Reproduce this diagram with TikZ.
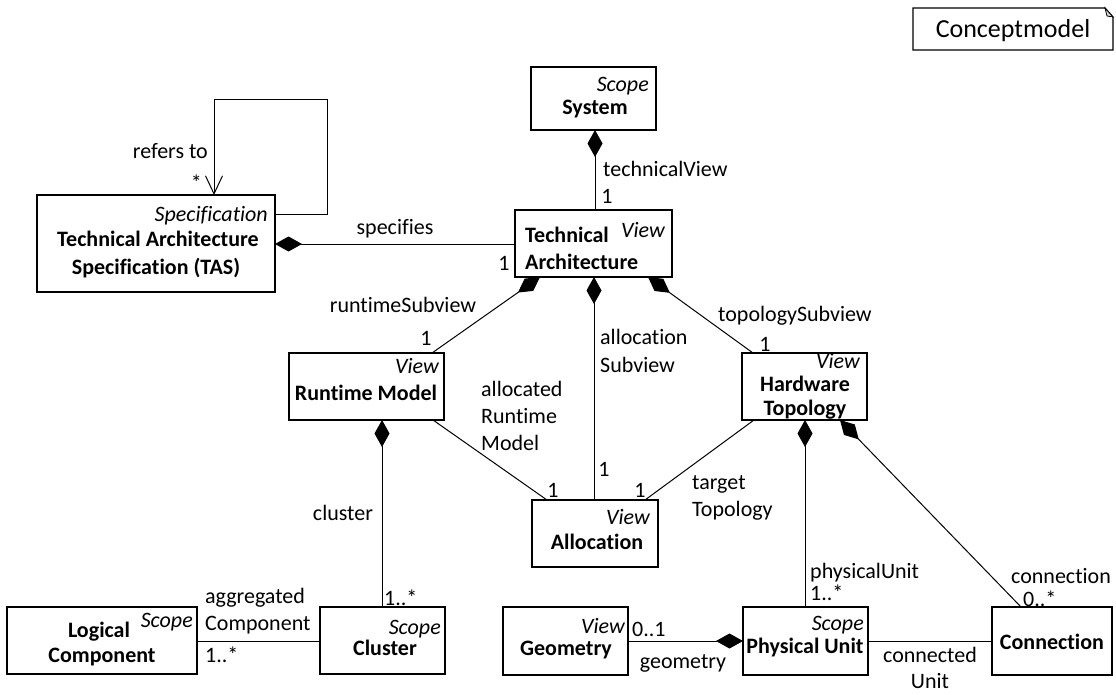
\documentclass[tikz,border=0pt]{standalone}
\usepackage{fontspec}
\setmainfont{Carlito}[Ligatures=NoCommon]
\usetikzlibrary{arrows.meta,calc}
\begin{document}
\begin{tikzpicture}[x=1pt,y=-1pt,
  box/.style={draw, line width=1.2pt, rectangle, anchor=north west, inner sep=0pt, outer sep=0pt},
  nm/.style={font=\fontsize{22}{27}\selectfont\bfseries, inner sep=0pt, anchor=base},
  nml/.style={nm, anchor=base west},
  st/.style={font=\fontsize{22}{27}\selectfont\itshape, inner sep=0pt, anchor=base east},
  lbl/.style={font=\fontsize{22}{27}\selectfont, inner sep=0pt, anchor=base},
  lblw/.style={lbl, anchor=base west},
  lble/.style={lbl, anchor=base east},
  conn/.style={line width=1pt},
  comp/.style={conn, {Diamond[length=27pt,width=15pt]}-},
]
\useasboundingbox (0,0) rectangle (1116,695);

% diagram frame label (note with folded corner)
\node[inner sep=0pt, outer sep=0pt, minimum width=200pt, minimum height=42pt, anchor=north west] (note) at (913,8) {};
\draw[line width=1.2pt] (note.north west) -- ($(note.north east)+(-8,0)$) -- ($(note.north east)+(0,9)$) -- (note.south east) -- (note.south west) -- cycle;
\filldraw[fill=gray!35, line width=0.8pt] ($(note.north east)+(-8,0)$) -- ($(note.north east)+(-6,8)$) -- ($(note.north east)+(0,9)$) -- cycle;
\node[font=\fontsize{26}{30}\selectfont, inner sep=0pt, anchor=base] (notet) at (1013,38) {Conceptmodel};

% class boxes
\node[box, minimum width=125pt, minimum height=63pt] (sys) at (531,67) {};
\node[box, minimum width=157pt, minimum height=67pt] (ta) at (515,210) {};
\node[box, minimum width=238pt, minimum height=97pt] (tas) at (37,195) {};
\node[box, minimum width=155pt, minimum height=67pt] (rm) at (289,353) {};
\node[box, minimum width=126pt, minimum height=67pt] (al) at (532,500) {};
\node[box, minimum width=125pt, minimum height=67pt] (ht) at (742,353) {};
\node[box, minimum width=190pt, minimum height=67pt] (lc) at (7,607) {};
\node[box, minimum width=125pt, minimum height=67pt] (cl) at (320,607) {};
\node[box, minimum width=125pt, minimum height=68pt] (ge) at (503,607) {};
\node[box, minimum width=125pt, minimum height=68pt] (pu) at (743,607) {};
\node[box, minimum width=120pt, minimum height=68pt] (co) at (992,607) {};

% box texts
\node[st] (sys-s) at (649,92) {Scope};
\node[nm] (sys-n) at (595,115) {System};

\node[st] (ta-s) at (665,237) {View};
\node[nml] (ta-n1) at (525,242) {Technical};
\node[nml] (ta-n2) at (525,269) {Architecture};

\node[st] (tas-s) at (268,222) {Specification};
\node[nm] (tas-n1) at (158,247) {Technical Architecture};
\node[nm] (tas-n2) at (156,274) {Specification (TAS)};

\node[st] (rm-s) at (439,373) {View};
\node[nm] (rm-n) at (366,400) {Runtime Model};

\node[st] (al-s) at (650,524) {View};
\node[nm] (al-n) at (597,549) {Allocation};

\node[st] (ht-s) at (860,368) {View};
\node[nm] (ht-n1) at (805,391) {Hardware};
\node[nm] (ht-n2) at (805,415) {Topology};

\node[st] (lc-s) at (193,627) {Scope};
\node[nm] (lc-n1) at (99,637) {Logical};
\node[nm] (lc-n2) at (102,662) {Component};

\node[st] (cl-s) at (441,634) {Scope};
\node[nm] (cl-n) at (385,655) {Cluster};

\node[st] (ge-s) at (625,633) {View};
\node[nm] (ge-n) at (566,655) {Geometry};

\node[st] (pu-s) at (864,630) {Scope};
\node[nm] (pu-n) at (805,653) {Physical Unit};

\node[nm] (co-n) at (1052,649) {Connection};

% associations
\draw[comp] ($(sys.south west)+(64,0)$) -- ($(ta.north west)+(80,0)$);
\draw[comp] ($(tas.north east)+(0,49)$) -- ($(ta.north west)+(0,34)$);
\draw[conn, -{Straight Barb[length=18pt,width=17pt]}] ($(tas.north east)+(0,20)$) -- ++(52,0) -- ++(0,-115) -- ++(-113,0) -- ($(tas.north west)+(177,0)$);
\draw[comp] ($(ta.south west)+(25,0)$) -- ($(rm.north west)+(143,0)$);
\draw[comp] ($(ta.south west)+(79,0)$) -- ($(al.north west)+(62,0)$);
\draw[comp] ($(ta.south west)+(133,0)$) -- ($(ht.north west)+(11,0)$);
\draw[conn] ($(rm.south west)+(144,0)$) -- ($(al.north west)+(15,0)$);
\draw[conn] ($(ht.south west)+(12,0)$) -- ($(al.north west)+(113,0)$);
\draw[comp] ($(rm.south west)+(93,0)$) -- ($(cl.north west)+(62,0)$);
\draw[conn] ($(lc.north east)+(0,34)$) -- ($(cl.north west)+(0,34)$);
\draw[comp] ($(pu.north west)+(0,34)$) -- ($(ge.north east)+(0,34)$);
\draw[comp] ($(ht.south west)+(63,0)$) -- ($(pu.north west)+(62,0)$);
\draw[comp] ($(ht.south west)+(98,0)$) -- ($(co.north west)+(29,0)$);
\draw[conn] ($(pu.north east)+(0,34)$) -- ($(co.north west)+(0,34)$);

% role names and multiplicities
\node[lble] (l-ref) at (208,159) {refers to};
\node[lble] (m-ref) at (202,191) {*};
\node[lbl] (l-spec) at (395,234) {specifies};
\node[lbl] (m-spec) at (504,270) {1};
\node[lblw] (l-tv) at (603,177) {technicalView};
\node[lbl] (m-tv) at (607,204) {1};
\node[lbl] (l-rs) at (403,312) {runtimeSubview};
\node[lbl] (m-rs) at (426,345) {1};
\node[lblw] (l-as1) at (600,344) {allocation};
\node[lblw] (l-as2) at (600,372) {Subview};
\node[lblw] (l-ts) at (718,321) {topologySubview};
\node[lbl] (m-ts) at (765,351) {1};
\node[lblw] (l-ar1) at (481,396) {allocated};
\node[lblw] (l-ar2) at (481,423) {Runtime};
\node[lblw] (l-ar3) at (481,450) {Model};
\node[lbl] (m-ar) at (553,497) {1};
\node[lbl] (m-as) at (604,476) {1};
\node[lbl] (m-tt) at (640,497) {1};
\node[lblw] (l-tt1) at (692,489) {target};
\node[lblw] (l-tt2) at (692,516) {Topology};
\node[lbl] (l-cl) at (343,520) {cluster};
\node[lblw] (m-cl) at (384,605) {1..*};
\node[lblw] (l-ac1) at (205,603) {aggregated};
\node[lblw] (l-ac2) at (205,630) {Component};
\node[lblw] (m-ac) at (205,662) {1..*};
\node[lblw] (m-ge) at (632,636) {0..1};
\node[lbl] (l-ge) at (683,668) {geometry};
\node[lblw] (l-pu) at (810,578) {physicalUnit};
\node[lblw] (m-pu) at (810,600) {1..*};
\node[lblw] (l-co) at (1011,583) {connection};
\node[lblw] (m-co) at (1023,606) {0..*};
\node[lbl] (l-cu1) at (930,662) {connected};
\node[lbl] (l-cu2) at (930,688) {Unit};
\end{tikzpicture}
\end{document}
